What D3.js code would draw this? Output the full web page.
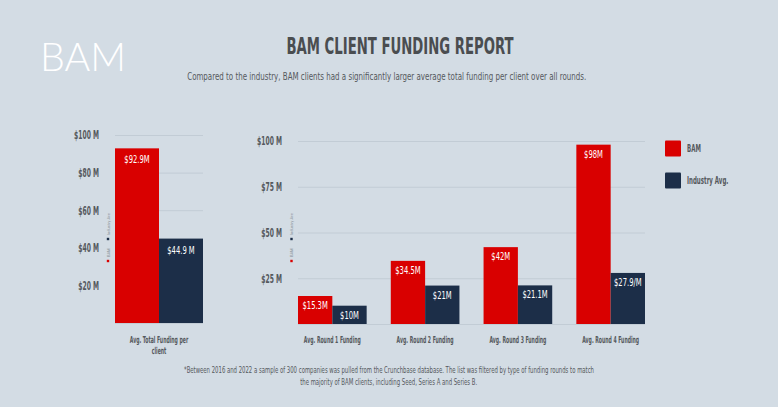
<!DOCTYPE html>
<html>
<head>
<meta charset="utf-8">
<script src="https://cdn.jsdelivr.net/npm/d3@7"></script>
<style>
  html, body { margin: 0; padding: 0; background: #d3dce4; }
  svg { display: block; }
</style>
</head>
<body>
<svg id="chart" width="778" height="407"></svg>
<script>
// ---- data ----
const series = ["BAM", "Industry Avg."];
const leftCategories = ["Avg. Total Funding per client"];
const leftBAM = [92.9];
const leftIndustry = [44.9];
const leftBAMLabels = ["$92.9M"];
const leftIndustryLabels = ["$44.9 M"];
const leftTicks = [20, 40, 60, 80, 100];
const leftTickLabels = ["$20 M", "$40 M", "$60 M", "$80 M", "$100 M"];

const rightCategories = ["Avg. Round 1 Funding", "Avg. Round 2 Funding", "Avg. Round 3 Funding", "Avg. Round 4 Funding"];
const rightBAM = [15.3, 34.5, 42, 98];
const rightIndustry = [10, 21, 21.1, 27.9];
const rightBAMLabels = ["$15.3M", "$34.5M", "$42M", "$98M"];
const rightIndustryLabels = ["$10M", "$21M", "$21.1M", "$27.9/M"];
const rightTicks = [25, 50, 75, 100];
const rightTickLabels = ["$25 M", "$50 M", "$75 M", "$100 M"];

const colors = { "BAM": "#d90000", "Industry Avg.": "#1c2e48" };
const textGray = "#55595d";
const gridColor = "#c2ccd5";
const FONT = "'DejaVu Sans Condensed', 'Liberation Sans Narrow', Roboto, sans-serif";

const svg = d3.select("#chart");

// ---- header ----
svg.append("text").attr("x", 40).attr("y", 71)
  .attr("font-family", "Lato, Roboto, 'Open Sans', sans-serif").attr("font-weight", 300)
  .attr("font-size", 40).attr("fill", "#ffffff")
  .attr("textLength", 86).attr("lengthAdjust", "spacingAndGlyphs")
  .text("BAM");

svg.append("text").attr("x", 400).attr("y", 53.5).attr("text-anchor", "middle")
  .attr("font-family", FONT).attr("font-weight", "bold").attr("font-size", 23)
  .attr("fill", "#4a4d50")
  .attr("textLength", 227).attr("lengthAdjust", "spacingAndGlyphs")
  .text("BAM CLIENT FUNDING REPORT");

svg.append("text").attr("x", 386.7).attr("y", 80).attr("text-anchor", "middle")
  .attr("font-family", FONT).attr("font-size", 10).attr("fill", textGray)
  .attr("textLength", 399).attr("lengthAdjust", "spacingAndGlyphs")
  .text("Compared to the industry, BAM clients had a significantly larger average total funding per client over all rounds.");

// ---- footnote ----
svg.append("text").attr("x", 389).attr("y", 373).attr("text-anchor", "middle")
  .attr("font-family", FONT).attr("font-size", 8).attr("fill", textGray)
  .attr("textLength", 410).attr("lengthAdjust", "spacingAndGlyphs")
  .text("*Between 2016 and 2022 a sample of 300 companies was pulled from the Crunchbase database. The list was filtered by type of funding rounds to match");
svg.append("text").attr("x", 388.7).attr("y", 384.5).attr("text-anchor", "middle")
  .attr("font-family", FONT).attr("font-size", 8).attr("fill", textGray)
  .attr("textLength", 177).attr("lengthAdjust", "spacingAndGlyphs")
  .text("the majority of BAM clients, including Seed, Series A and Series B.");

// ---- generic chart drawer ----
function drawChart(opts) {
  const { categories, bam, ind, bamLabels, indLabels, ticks, tickLabels,
          xRange, yRange, paddingInner, labelX, tinyLegendX, valueFont, valueOffset, wrapWidth } = opts;
  const g = svg.append("g");
  const x = d3.scaleBand().domain(categories).range(xRange).paddingInner(paddingInner).paddingOuter(0);
  const xs = d3.scaleBand().domain(series).range([0, x.bandwidth()]).padding(0);
  const y = d3.scaleLinear().domain([0, 100]).range(yRange);

  // gridlines
  g.append("g").selectAll("line").data(ticks).join("line")
    .attr("x1", xRange[0]).attr("x2", xRange[1])
    .attr("y1", d => y(d) + 0.5).attr("y2", d => y(d) + 0.5)
    .attr("stroke", gridColor).attr("stroke-width", 1);
  g.append("line").attr("x1", xRange[0]).attr("x2", xRange[1])
    .attr("y1", y(0) + 0.5).attr("y2", y(0) + 0.5)
    .attr("stroke", gridColor).attr("stroke-width", 1);

  // tick labels (condensed horizontally)
  g.append("g").selectAll("text").data(ticks).join("text")
    .attr("transform", d => `translate(${labelX},${y(d) + 4.3}) scale(0.56,1)`)
    .attr("text-anchor", "end")
    .attr("font-family", FONT).attr("font-weight", "bold").attr("font-size", 12)
    .attr("fill", textGray)
    .text((d, i) => tickLabels[i]);

  // bars
  const rows = categories.map((c, i) => ({ c, vals: [
    { s: "BAM", v: bam[i], label: bamLabels[i] },
    { s: "Industry Avg.", v: ind[i], label: indLabels[i] }] }));
  const grp = g.append("g").selectAll("g").data(rows).join("g")
    .attr("transform", d => `translate(${x(d.c)},0)`);
  grp.selectAll("rect").data(d => d.vals).join("rect")
    .attr("x", d => xs(d.s)).attr("width", xs.bandwidth())
    .attr("y", d => y(d.v)).attr("height", d => y(0) - y(d.v))
    .attr("fill", d => colors[d.s]);
  grp.selectAll("text.val").data(d => d.vals).join("text").attr("class", "val")
    .attr("transform", d => `translate(${xs(d.s) + xs.bandwidth() / 2},${y(d.v) + valueOffset}) scale(0.72,1)`)
    .attr("text-anchor", "middle")
    .attr("font-family", FONT).attr("font-size", valueFont).attr("fill", "#ffffff")
    .text(d => d.label);

  // category labels (wrapped, condensed)
  const cat = g.append("g").selectAll("text").data(categories).join("text")
    .attr("transform", d => `translate(${x(d) + x.bandwidth() / 2},343) scale(0.54,1)`)
    .attr("text-anchor", "middle")
    .attr("font-family", FONT).attr("font-weight", "bold").attr("font-size", 9.5)
    .attr("fill", textGray);
  cat.each(function(d) {
    const t = d3.select(this);
    const words = d.split(" ");
    let line = [];
    let tspan = t.append("tspan").attr("x", 0).attr("dy", 0);
    words.forEach(w => {
      line.push(w);
      tspan.text(line.join(" "));
      if (tspan.node().getComputedTextLength() > wrapWidth && line.length > 1) {
        line.pop();
        tspan.text(line.join(" "));
        line = [w];
        tspan = t.append("tspan").attr("x", 0).attr("dy", 11.5).text(w);
      }
    });
  });

  // tiny rotated legend
  const tl = g.append("g").attr("transform", `translate(${tinyLegendX},261) rotate(-90)`);
  tl.append("rect").attr("x", -1.2).attr("y", -1.2).attr("width", 2.4).attr("height", 2.4).attr("fill", colors["BAM"]);
  tl.append("text").attr("x", 4).attr("y", 1.5).attr("font-family", "Roboto, sans-serif")
    .attr("font-size", 4).attr("fill", "#8a9299").text("BAM");
  tl.append("rect").attr("x", 20.8).attr("y", -1.2).attr("width", 2.4).attr("height", 2.4).attr("fill", colors["Industry Avg."]);
  tl.append("text").attr("x", 26).attr("y", 1.5).attr("font-family", "Roboto, sans-serif")
    .attr("font-size", 4).attr("fill", "#8a9299").text("Industry Ave");
}

drawChart({
  categories: leftCategories, bam: leftBAM, ind: leftIndustry,
  bamLabels: leftBAMLabels, indLabels: leftIndustryLabels,
  ticks: leftTicks, tickLabels: leftTickLabels,
  xRange: [115, 203], yRange: [323, 135], paddingInner: 0,
  labelX: 99, tinyLegendX: 108, valueFont: 10.5, valueOffset: 15, wrapWidth: 120
});

drawChart({
  categories: rightCategories, bam: rightBAM, ind: rightIndustry,
  bamLabels: rightBAMLabels, indLabels: rightIndustryLabels,
  ticks: rightTicks, tickLabels: rightTickLabels,
  xRange: [298, 645], yRange: [324, 141], paddingInner: 0.26,
  labelX: 282, tinyLegendX: 291.5, valueFont: 10.5, valueOffset: 13, wrapWidth: 250
});

// ---- legend ----
const legend = svg.append("g").attr("transform", "translate(665,140.5)");
const li = legend.selectAll("g").data(series).join("g")
  .attr("transform", (d, i) => `translate(0,${i * 32})`);
li.append("rect").attr("width", 16).attr("height", 16).attr("rx", 1)
  .attr("fill", d => colors[d]);
li.append("text").attr("transform", "translate(22,11.8) scale(0.58,1)")
  .attr("font-family", FONT).attr("font-weight", "bold").attr("font-size", 10.5)
  .attr("fill", textGray).text(d => d);
</script>
</body>
</html>
